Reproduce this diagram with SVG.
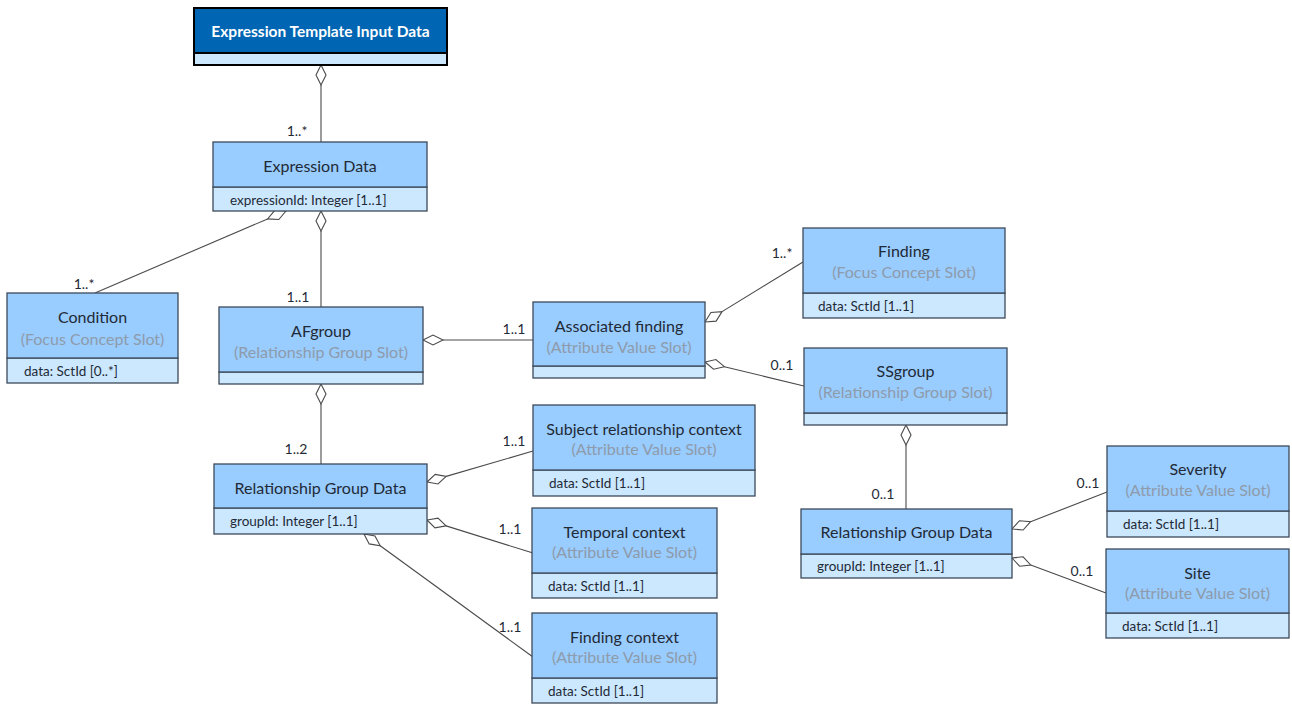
<svg xmlns="http://www.w3.org/2000/svg" width="1292" height="704" viewBox="0 0 1292 704">
<style>
.hd{fill:#99ccff;stroke:#3d4a5a;stroke-width:1.3}
.at{fill:#cce8ff;stroke:#3d4a5a;stroke-width:1.3}
.t{font-family:Lato,"Liberation Sans",sans-serif;font-size:16px;fill:#1f2a36;text-anchor:middle;dominant-baseline:central}
.s{font-family:Lato,"Liberation Sans",sans-serif;font-size:16px;fill:#8e9bab;text-anchor:middle;dominant-baseline:central}
.a{font-family:Lato,"Liberation Sans",sans-serif;font-size:13.5px;fill:#1f2a36;dominant-baseline:central}
.m{font-family:Lato,"Liberation Sans",sans-serif;font-size:14px;fill:#1f2a36;text-anchor:middle;dominant-baseline:central}
.ln{stroke:#4a4a4a;stroke-width:1.1;fill:none}
.dm{fill:#ffffff;stroke:#4a4a4a;stroke-width:1.1}
</style>
<rect width="1292" height="704" fill="#ffffff"/>
<g id="connectors">
<polygon class="dm" points="321,65 326,75 321,85 316,75"/><line class="ln" x1="321" y1="85" x2="321" y2="142"/>
<polygon class="dm" points="286,211 278.8,219.5 267.6,218.9 274.8,210.3"/><line class="ln" x1="267.6" y1="218.9" x2="95" y2="293"/>
<polygon class="dm" points="321,211 326,221 321,231 316,221"/><line class="ln" x1="321" y1="231" x2="321" y2="307"/>
<polygon class="dm" points="423,340 433,335 443,340 433,345"/><line class="ln" x1="443" y1="340" x2="533" y2="340"/>
<polygon class="dm" points="321,384 326,394 321,404 316,394"/><line class="ln" x1="321" y1="404" x2="321" y2="464"/>
<polygon class="dm" points="705,322 716.1,321.1 722.1,311.6 710.9,312.5"/><line class="ln" x1="722.1" y1="311.6" x2="803" y2="262"/>
<polygon class="dm" points="705,362 713.5,369.2 724.4,366.7 715.9,359.5"/><line class="ln" x1="724.4" y1="366.7" x2="804" y2="386"/>
<polygon class="dm" points="906,425 911,435 906,445 901,435"/><line class="ln" x1="906" y1="445" x2="906" y2="509"/>
<polygon class="dm" points="427,482 438,484 446.2,476.4 435.2,474.4"/><line class="ln" x1="446.2" y1="476.4" x2="533" y2="451"/>
<polygon class="dm" points="427,520 435,527.8 446.1,525.9 438,518.2"/><line class="ln" x1="446.1" y1="525.9" x2="533" y2="553"/>
<polygon class="dm" points="364,534 369.2,543.9 380.2,545.8 375,535.9"/><line class="ln" x1="380.2" y1="545.8" x2="533" y2="657"/>
<polygon class="dm" points="1012,529 1023.1,530 1030.6,521.7 1019.5,520.7"/><line class="ln" x1="1030.6" y1="521.7" x2="1107" y2="492"/>
<polygon class="dm" points="1012,558 1019.6,566.2 1030.7,565 1023.1,556.8"/><line class="ln" x1="1030.7" y1="565" x2="1106" y2="593"/>
<text class="m" x="297" y="130">1..*</text>
<text class="m" x="84" y="283">1..*</text>
<text class="m" x="298" y="296">1..1</text>
<text class="m" x="514" y="328">1..1</text>
<text class="m" x="296" y="448">1..2</text>
<text class="m" x="782" y="252">1..*</text>
<text class="m" x="782" y="364">0..1</text>
<text class="m" x="514" y="440">1..1</text>
<text class="m" x="510" y="528">1..1</text>
<text class="m" x="510" y="626">1..1</text>
<text class="m" x="883" y="493">0..1</text>
<text class="m" x="1088" y="482">0..1</text>
<text class="m" x="1082" y="570">0..1</text>
</g>
<g id="node-template">
<rect x="194" y="53" width="253" height="12" fill="#cce8ff" stroke="#000" stroke-width="2"/>
<rect x="194" y="8" width="253" height="45" fill="#0066b3" stroke="#000" stroke-width="2"/>
<text x="320.5" y="31" font-family="Lato,'Liberation Sans',sans-serif" font-size="15.5px" font-weight="bold" fill="#ffffff" text-anchor="middle" dominant-baseline="central">Expression Template Input Data</text>
</g>
<g id="node-expression-data">
<rect class="at" x="213" y="187" width="214" height="24"/>
<rect class="hd" x="213" y="142" width="214" height="45"/>
<text class="t" x="320" y="165">Expression Data</text>
<text class="a" x="230" y="200">expressionId: Integer [1..1]</text>
</g>
<g id="node-condition">
<rect class="at" x="7" y="358" width="171" height="25"/>
<rect class="hd" x="7" y="293" width="171" height="65"/>
<text class="t" x="92.5" y="316">Condition</text>
<text class="s" x="92.5" y="338">(Focus Concept Slot)</text>
<text class="a" x="24" y="371">data: SctId [0..*]</text>
</g>
<g id="node-afgroup">
<rect class="at" x="219" y="372" width="204" height="12"/>
<rect class="hd" x="219" y="307" width="204" height="65"/>
<text class="t" x="321" y="330">AFgroup</text>
<text class="s" x="321" y="351">(Relationship Group Slot)</text>
</g>
<g id="node-associated-finding">
<rect class="at" x="533" y="366" width="172" height="12"/>
<rect class="hd" x="533" y="302" width="172" height="64"/>
<text class="t" x="619" y="325">Associated finding</text>
<text class="s" x="619" y="346">(Attribute Value Slot)</text>
</g>
<g id="node-finding">
<rect class="at" x="803" y="293" width="202" height="25"/>
<rect class="hd" x="803" y="228" width="202" height="65"/>
<text class="t" x="904" y="250">Finding</text>
<text class="s" x="904" y="271">(Focus Concept Slot)</text>
<text class="a" x="818" y="306">data: SctId [1..1]</text>
</g>
<g id="node-ssgroup">
<rect class="at" x="804" y="413" width="203" height="12"/>
<rect class="hd" x="804" y="348" width="203" height="65"/>
<text class="t" x="905.5" y="370">SSgroup</text>
<text class="s" x="905.5" y="391">(Relationship Group Slot)</text>
</g>
<g id="node-subject-relationship-context">
<rect class="at" x="533" y="470" width="222" height="26"/>
<rect class="hd" x="533" y="405" width="222" height="65"/>
<text class="t" x="644" y="428">Subject relationship context</text>
<text class="s" x="644" y="448">(Attribute Value Slot)</text>
<text class="a" x="549" y="483">data: SctId [1..1]</text>
</g>
<g id="node-rgd-left">
<rect class="at" x="214" y="508" width="213" height="26"/>
<rect class="hd" x="214" y="464" width="213" height="44"/>
<text class="t" x="320.5" y="487">Relationship Group Data</text>
<text class="a" x="230" y="521">groupId: Integer [1..1]</text>
</g>
<g id="node-temporal-context">
<rect class="at" x="532" y="573" width="185" height="25"/>
<rect class="hd" x="532" y="508" width="185" height="65"/>
<text class="t" x="624.5" y="531">Temporal context</text>
<text class="s" x="624.5" y="551">(Attribute Value Slot)</text>
<text class="a" x="548" y="586">data: SctId [1..1]</text>
</g>
<g id="node-finding-context">
<rect class="at" x="532" y="678" width="185" height="25"/>
<rect class="hd" x="532" y="613" width="185" height="65"/>
<text class="t" x="624.5" y="636">Finding context</text>
<text class="s" x="624.5" y="656">(Attribute Value Slot)</text>
<text class="a" x="548" y="691">data: SctId [1..1]</text>
</g>
<g id="node-rgd-right">
<rect class="at" x="801" y="554" width="211" height="24"/>
<rect class="hd" x="801" y="509" width="211" height="45"/>
<text class="t" x="906.5" y="531">Relationship Group Data</text>
<text class="a" x="817" y="566">groupId: Integer [1..1]</text>
</g>
<g id="node-severity">
<rect class="at" x="1107" y="511" width="182" height="26"/>
<rect class="hd" x="1107" y="446" width="182" height="65"/>
<text class="t" x="1198" y="468">Severity</text>
<text class="s" x="1198" y="489">(Attribute Value Slot)</text>
<text class="a" x="1123" y="524">data: SctId [1..1]</text>
</g>
<g id="node-site">
<rect class="at" x="1106" y="613" width="183" height="25"/>
<rect class="hd" x="1106" y="549" width="183" height="64"/>
<text class="t" x="1197.5" y="572">Site</text>
<text class="s" x="1197.5" y="592">(Attribute Value Slot)</text>
<text class="a" x="1122" y="626">data: SctId [1..1]</text>
</g>
</svg>
